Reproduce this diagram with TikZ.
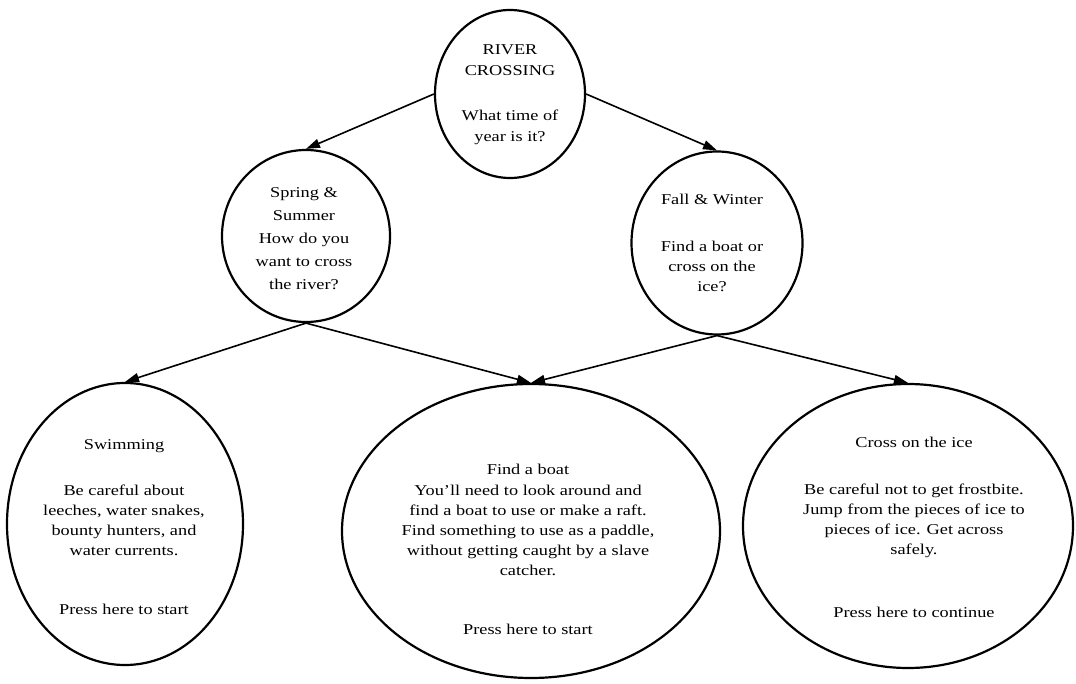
\documentclass[tikz,border=0pt]{standalone}
\usepackage{fontspec}
\setmainfont{Liberation Serif}[FakeStretch=1.22]
\usetikzlibrary{shapes.geometric,arrows.meta}
\begin{document}
\begin{tikzpicture}[x=1pt,y=-1pt,
  bubble/.style={ellipse, draw, line width=2.2pt, inner sep=0pt},
  txt/.style={align=center, inner sep=0pt, anchor=north, font=\fontsize{15}{20}\selectfont},
  link/.style={line width=1.6pt, -{Triangle[length=14pt,width=9pt]}}]
\useasboundingbox (0,0) rectangle (1076,684);
% ellipses
\node[bubble, minimum width=150pt, minimum height=168pt] (top) at (510,94) {};
\node[bubble, minimum width=168pt, minimum height=172pt] (spring) at (306,236) {};
\node[bubble, minimum width=171pt, minimum height=183pt] (fall) at (717,243) {};
\node[bubble, minimum width=236pt, minimum height=282pt] (swim) at (125,524) {};
\node[bubble, minimum width=378pt, minimum height=294pt] (boat) at (531,531) {};
\node[bubble, minimum width=330pt, minimum height=284pt] (cross) at (908,526) {};
% texts
\node[txt, font=\fontsize{15}{21}\selectfont] (topT) at (510,44) {RIVER\\CROSSING\\[24pt]What time of\\year is it?};
\node[txt, font=\fontsize{15}{23}\selectfont] (springT) at (304,187) {Spring \&\\Summer\\How do you\\want to cross\\the river?};
\node[txt] (fallT) at (712,194) {Fall \& Winter\\[27pt]Find a boat or\\cross on the\\ice?};
\node[txt] (swimT) at (124,439) {Swimming\\[26pt]Be careful about\\leeches, water snakes,\\bounty hunters, and\\water currents.\\[39pt]Press here to start};
\node[txt] (boatT) at (528,464) {Find a boat\\[1pt]You'll need to look around and\\find a boat to use or make a raft.\\Find something to use as a paddle,\\without getting caught by a slave\\catcher.\\[39pt]Press here to start};
\node[txt] (crossT) at (914,437) {Cross on the ice\\[27pt]Be careful not to get frostbite.\\Jump from the pieces of ice to\\pieces of ice. Get across\\safely.\\[43pt]Press here to continue};
% connectors
\draw[link] (top.west) -- (spring.north);
\draw[link] (top.east) -- (fall.north);
\draw[link] (spring.south) -- (swim.north);
\draw[link] (spring.south) -- (boat.north);
\draw[link] (fall.south) -- (boat.north);
\draw[link] (fall.south) -- (cross.north);
\end{tikzpicture}
\end{document}
